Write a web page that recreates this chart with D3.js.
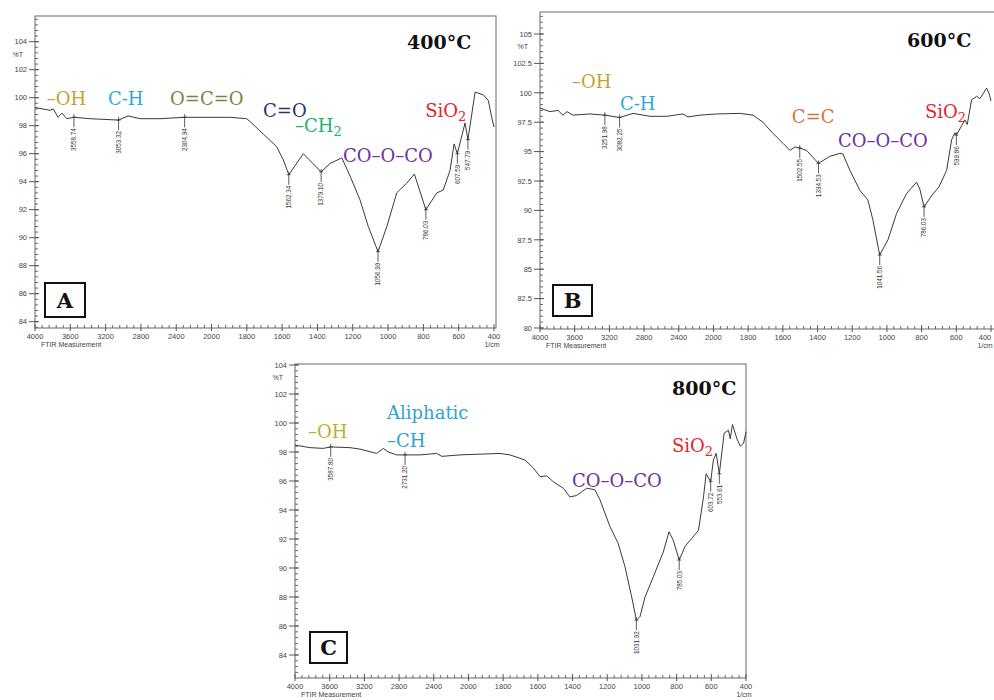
<!DOCTYPE html>
<html>
<head>
<meta charset="utf-8">
<script src="https://cdn.jsdelivr.net/npm/d3@7"></script>
<style>
  body { margin: 0; background: #fff; }
  svg { display: block; }
</style>
</head>
<body>
<div id="chart"></div>
<script>

// ---- spectra: wavenumber (1/cm) and %T ----
var wnA = [4000,3830,3793,3739,3694,3641,3558.74,3377,3207,3053.32,2946,2810,2584,2304.94,2130,1895,1801,1782,1707,1631,1593,1562.34,1480,1379.10,1329,1262,1215,1159,1112,1056.99,1007,951,894,851,786.03,724,688,649,626,607.59,564,547.79,507,460,432,413,400];
var tA  = [99.3,99.1,99.2,98.6,98.9,98.5,98.6,98.5,98.45,98.4,98.7,98.5,98.5,98.6,98.6,98.6,98.5,98.3,97.4,96.5,95.55,94.5,96.0,94.7,95.3,95.7,94.4,92.7,90.8,89.0,90.8,93.2,93.9,94.55,92.0,93.2,93.4,94.8,96.7,96.0,98.2,97.0,100.4,100.2,99.8,98.6,97.9];
var peaksA = [3558.74,3053.32,2304.94,1562.34,1379.10,1056.99,786.03,607.59,547.79];

var wnB = [4000,3885,3792,3735,3689,3620,3424,3251.98,3082.25,2928,2732,2539,2351,2294,2155,1982,1847,1772,1715,1657,1599,1559,1530,1502.55,1463,1394.53,1329,1271,1254,1213,1156,1110,1081,1041.56,994,944,886,829,810,786.03,740,700,656,627,608,599.86,550,537,512,483,464,425,410,400];
var tB  = [98.7,98.4,98.5,98.1,98.4,98.1,98.2,98.1,97.9,98.25,98.0,98.0,98.2,97.95,98.1,98.2,98.25,98.1,97.5,96.55,95.7,95.1,95.4,95.3,95.1,94.0,94.6,94.85,94.8,93.4,91.7,90.9,89.2,86.2,87.5,89.75,91.45,92.4,91.8,90.3,91.3,92.0,93.4,96.0,96.6,96.4,97.7,97.3,99.4,99.7,99.5,100.4,99.9,99.3];
var peaksB = [3251.98,3082.25,1502.55,1394.53,1041.56,786.03,599.86];

var wnC = [4000,3827,3674,3587.80,3366,3251,3058,2982,2924,2827,2731.20,2559,2366,2308,2098,1818,1761,1674,1626,1588,1549,1511,1453,1415,1376,1319,1271,1242,1184,1137,1098,1059,1031.92,1011,982,934,877,844,819,785.03,751,712,674,645,630,603.72,588,572,553.61,526,501,491,478,452,433,414,400];
var tC  = [98.48,98.3,98.25,98.35,98.3,98.2,97.9,98.25,98.0,97.8,97.8,97.8,97.9,97.7,97.8,97.9,97.8,97.45,96.9,96.3,96.35,95.95,95.5,94.9,95.0,95.5,95.4,94.7,92.85,91.7,90.1,88.0,86.4,86.65,88.0,89.4,91.1,92.5,91.9,90.55,91.5,92.05,92.6,94.9,96.5,95.95,97.45,97.9,96.5,99.3,99.5,98.9,99.9,98.9,98.4,98.6,99.4];
var peaksC = [3587.80,2731.20,1031.92,785.03,603.72,553.61];

// ---- tick labels ----
var xTicks  = [4000,3600,3200,2800,2400,2000,1800,1600,1400,1200,1000,800,600,400];
var yTicksA = [84,86,88,90,92,94,96,98,100,102,104];
var yTicksB = [80,82.5,85,87.5,90,92.5,95,97.5,100,102.5,105];
var yTicksC = [84,86,88,90,92,94,96,98,100,102,104];

// ---- band assignments: text, left wavenumber, baseline %T ----
var notesA = [
  {t:"–OH",     wn:3867, v:99.48, c:"#C9A12C"},
  {t:"C-H",     wn:3173, v:99.48, c:"#2EA9DA"},
  {t:"O=C=O",   wn:2470, v:99.48, c:"#6E8B3D"},
  {t:"C=O",     wn:1708, v:98.64, c:"#1F3A6E"},
  {t:"–CH", sub:"2", wn:1527, v:97.57, c:"#25B06C"},
  {t:"CO–O–CO", wn:1255, v:95.43, c:"#7030A0"},
  {t:"SiO", sub:"2", wn:790, v:98.64, c:"#E0262A"}
];
var notesB = [
  {t:"–OH",     wn:3631, v:100.41, c:"#C9A12C"},
  {t:"C-H",     wn:3078, v:98.54, c:"#2EA9DA"},
  {t:"C=C",     wn:1548, v:97.43, c:"#D0773A"},
  {t:"CO–O–CO", wn:1282, v:95.39, c:"#7030A0"},
  {t:"SiO", sub:"2", wn:781, v:97.86, c:"#E0262A"}
];
var notesC = [
  {t:"–OH",       wn:3850, v:98.97, c:"#BDB030"},
  {t:"Aliphatic", wn:2939, v:100.28, c:"#2EA3CC"},
  {t:"–CH",       wn:2939, v:98.34, c:"#2EA3CC"},
  {t:"CO–O–CO",   wn:1403, v:95.59, c:"#7030A0"},
  {t:"SiO", sub:"2", wn:827, v:98.0, c:"#E0262A"}
];

// ---- panel layout (pixels) ----
var panels = [
  {wn:wnA, t:tA, peaks:peaksA, notes:notesA, yTicks:yTicksA, minorY:0.4,
   x0:35, x400:494, yHi:[104,41.7], yLo:[84,321.7],
   frame:{l:35, t:16, r:496, b:328}, temp:"400°C", tempAt:[407,49],
   letter:"A", box:[45,283,40,34]},
  {wn:wnB, t:tB, peaks:peaksB, notes:notesB, yTicks:yTicksB, minorY:0.5,
   x0:540, x400:991, yHi:[105,34], yLo:[80,328],
   frame:{l:540, t:12, r:1000, b:329}, temp:"600°C", tempAt:[907,47],
   letter:"B", box:[553,285,39,31]},
  {wn:wnC, t:tC, peaks:peaksC, notes:notesC, yTicks:yTicksC, minorY:0.4,
   x0:295, x400:746, yHi:[104,365], yLo:[84,655],
   frame:{l:295, t:364, r:746, b:678}, temp:"800°C", tempAt:[672,395],
   letter:"C", box:[310,632,37,31]}
];

var svg = d3.select("#chart")
  .append("svg")
    .attr("width", 994)
    .attr("height", 700)
    .style("font-family", "'Liberation Sans', Arial, sans-serif");

var serif = "'DejaVu Serif', 'Liberation Serif', serif";

panels.forEach(function(p) {
  var f = p.frame;
  var w = (p.x400 - p.x0) / 13;

  // FTIR scale: 4000-2000 at half the scale of 2000-400
  var x = d3.scaleLinear()
    .domain([4000, 2000, 400])
    .range([p.x0, p.x0 + 5 * w, p.x400]);
  var y = d3.scaleLinear()
    .domain([p.yLo[0], p.yHi[0]])
    .range([p.yLo[1], p.yHi[1]]);

  // keep edge labels inside the page
  var edgeX = function(px) { return Math.min(px, 994 - 9); };

  var g = svg.append("g");

  // frame
  g.append("rect")
    .attr("x", f.l).attr("y", f.t)
    .attr("width", f.r - f.l).attr("height", f.b - f.t)
    .attr("fill", "none")
    .attr("stroke", "#666")
    .attr("stroke-width", 1);

  // y ticks
  var yMin = y.invert(f.b), yMax = y.invert(f.t);
  var minors = d3.range(Math.ceil(yMin / p.minorY) * p.minorY, yMax, p.minorY);
  g.selectAll(".ymin").data(minors).enter().append("line")
    .attr("x1", f.l).attr("x2", f.l + 3)
    .attr("y1", function(d) { return y(d); })
    .attr("y2", function(d) { return y(d); })
    .attr("stroke", "#666");
  g.selectAll(".ymaj").data(p.yTicks).enter().append("line")
    .attr("x1", f.l - 6).attr("x2", f.l + 4)
    .attr("y1", function(d) { return y(d); })
    .attr("y2", function(d) { return y(d); })
    .attr("stroke", "#555");
  g.selectAll(".ylab").data(p.yTicks).enter().append("text")
    .attr("x", f.l - 8)
    .attr("y", function(d) { return y(d) + 2.7; })
    .attr("text-anchor", "end")
    .attr("font-size", 7.5)
    .attr("fill", "#444")
    .text(function(d) { return d; });
  g.append("text")
    .attr("x", f.l - 12)
    .attr("y", y(p.yTicks[p.yTicks.length - 1]) + 15)
    .attr("text-anchor", "end")
    .attr("font-size", 7)
    .attr("fill", "#444")
    .text("%T");

  // x ticks
  var xMinor = [];
  for (var i = 0; i < xTicks.length - 1; i++) {
    for (var k = 1; k < 5; k++) xMinor.push(xTicks[i] + (xTicks[i + 1] - xTicks[i]) * k / 5);
  }
  g.selectAll(".xmin").data(xMinor).enter().append("line")
    .attr("x1", function(d) { return x(d); })
    .attr("x2", function(d) { return x(d); })
    .attr("y1", f.b).attr("y2", f.b - 3)
    .attr("stroke", "#666");
  g.selectAll(".xmaj").data(xTicks).enter().append("line")
    .attr("x1", function(d) { return x(d); })
    .attr("x2", function(d) { return x(d); })
    .attr("y1", f.b - 4).attr("y2", f.b + 3)
    .attr("stroke", "#555");
  g.selectAll(".xlab").data(xTicks).enter().append("text")
    .attr("x", function(d) { return edgeX(x(d)); })
    .attr("y", f.b + 11)
    .attr("text-anchor", "middle")
    .attr("font-size", 7.5)
    .attr("fill", "#444")
    .text(function(d) { return d; });
  g.append("text")
    .attr("x", f.l + 6).attr("y", f.b + 18.5)
    .attr("font-size", 7).attr("fill", "#444")
    .text("FTIR Measurement");
  g.append("text")
    .attr("x", edgeX(x(400) - 2)).attr("y", f.b + 18.5)
    .attr("text-anchor", "middle")
    .attr("font-size", 7).attr("fill", "#444")
    .text("1/cm");

  // spectrum
  var pts = p.wn.map(function(d, i) { return [d, p.t[i]]; });
  g.append("path")
    .datum(pts)
    .attr("fill", "none")
    .attr("stroke", "#3a3a3a")
    .attr("stroke-width", 1)
    .attr("d", d3.line()
      .x(function(d) { return x(d[0]); })
      .y(function(d) { return y(d[1]); }));

  // peak markers
  var peakPts = p.peaks.map(function(wn) {
    return [wn, p.t[p.wn.indexOf(wn)]];
  });
  var pk = g.selectAll(".peak").data(peakPts).enter().append("g")
    .attr("transform", function(d) { return "translate(" + x(d[0]) + "," + y(d[1]) + ")"; });
  pk.append("line")
    .attr("x1", 0).attr("x2", 0).attr("y1", -3).attr("y2", 10)
    .attr("stroke", "#333").attr("stroke-width", 0.8);
  pk.append("line")
    .attr("x1", -2).attr("x2", 2).attr("y1", 0).attr("y2", 0)
    .attr("stroke", "#333").attr("stroke-width", 0.8);
  pk.append("text")
    .attr("transform", "translate(2.3,11) rotate(-90)")
    .attr("text-anchor", "end")
    .attr("font-size", 6.3)
    .attr("fill", "#333")
    .text(function(d) { return d[0].toFixed(2); });

  // band assignments
  var nt = g.selectAll(".note").data(p.notes).enter().append("text")
    .attr("x", function(d) { return x(d.wn); })
    .attr("y", function(d) { return y(d.v); })
    .attr("font-family", serif)
    .attr("font-size", 18)
    .attr("fill", function(d) { return d.c; })
    .text(function(d) { return d.t; });
  nt.filter(function(d) { return d.sub; })
    .append("tspan")
      .attr("dy", 4)
      .attr("font-size", 13)
      .text(function(d) { return d.sub; });

  // temperature
  g.append("text")
    .attr("x", p.tempAt[0]).attr("y", p.tempAt[1])
    .attr("font-family", serif)
    .attr("font-weight", "bold")
    .attr("font-size", 19)
    .attr("fill", "#111")
    .text(p.temp);

  // panel letter
  g.append("rect")
    .attr("x", p.box[0]).attr("y", p.box[1])
    .attr("width", p.box[2]).attr("height", p.box[3])
    .attr("fill", "#fff")
    .attr("stroke", "#111")
    .attr("stroke-width", 2);
  g.append("text")
    .attr("x", p.box[0] + p.box[2] / 2)
    .attr("y", p.box[1] + p.box[3] / 2 + 7.5)
    .attr("text-anchor", "middle")
    .attr("font-family", serif)
    .attr("font-weight", "bold")
    .attr("font-size", 21)
    .attr("fill", "#111")
    .text(p.letter);
});

</script>
</body>
</html>
